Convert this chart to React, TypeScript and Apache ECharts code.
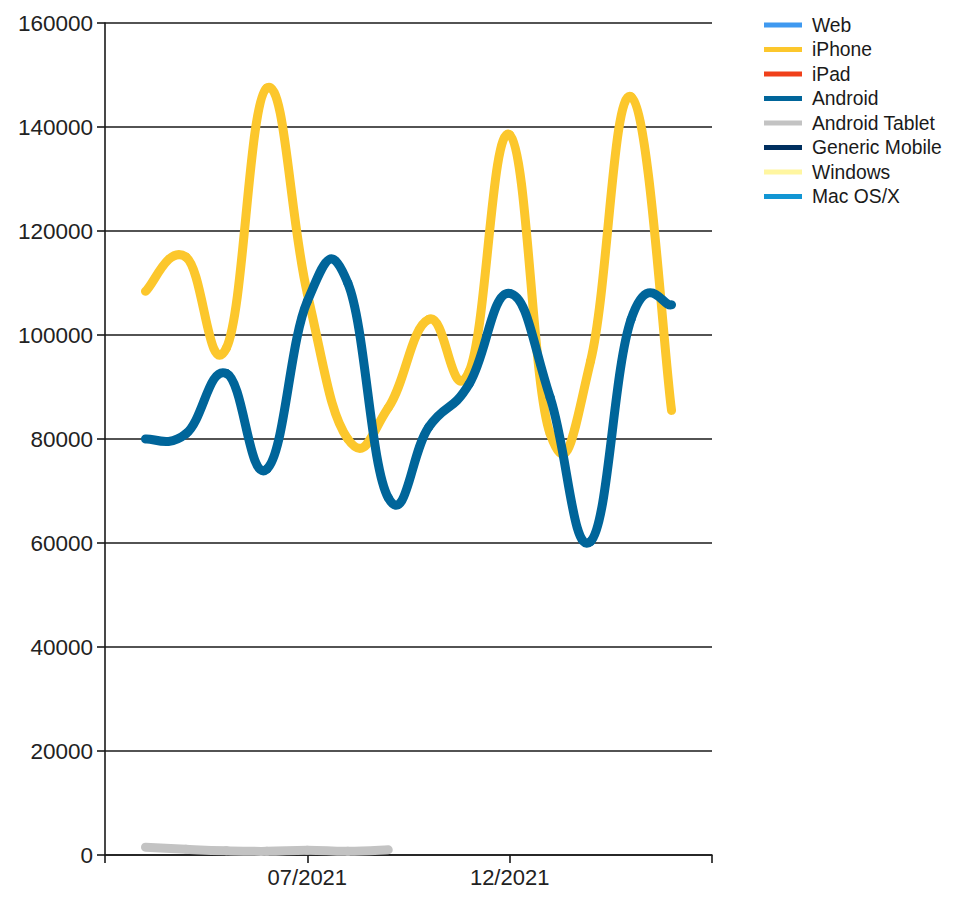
import React, { useEffect, useRef } from "react";
import * as echarts from "echarts";

// Monthly axis, one slot of padding on each side of the data
const months = [
  "02/2021", "03/2021", "04/2021", "05/2021", "06/2021", "07/2021", "08/2021", "09/2021",
  "10/2021", "11/2021", "12/2021", "01/2022", "02/2022", "03/2022", "04/2022", "05/2022",
];
const shownMonthLabels = ["07/2021", "12/2021"];

const webValues: (number | null)[] = [];
const iphoneValues: (number | null)[] = [
  null, 108400, 115000, 97500, 147500, 108000, 80000, 86000,
  103000, 93000, 138500, 81000, 95000, 145800, 85500, null,
];
const ipadValues: (number | null)[] = [];
const androidValues: (number | null)[] = [
  null, 80000, 81000, 92600, 74200, 106500, 110000, 68700,
  82300, 90600, 108000, 88000, 60300, 103000, 105800, null,
];
const androidTabletValues: (number | null)[] = [
  null, 1500, 1100, 800, 700, 900, 700, 1000,
  null, null, null, null, null, null, null, null,
];
const genericMobileValues: (number | null)[] = [];
const windowsValues: (number | null)[] = [];
const macValues: (number | null)[] = [];

const seriesNames = ["Web", "iPhone", "iPad", "Android", "Android Tablet", "Generic Mobile", "Windows", "Mac OS/X"];
const seriesColors = ["#3f99f0", "#fcc72c", "#f0401a", "#00659a", "#c3c3c3", "#002f5f", "#fff6a0", "#1296d4"];
const seriesValues = [
  webValues, iphoneValues, ipadValues, androidValues,
  androidTabletValues, genericMobileValues, windowsValues, macValues,
];

const FONT = "'Liberation Sans', Arial, sans-serif";
// Cardinal spline tension (0.5 = Catmull-Rom)
const TENSION = 0.66;
const LINE_WIDTH = 9;

// [monthIndex, value] pairs for the non-empty months of a series
function toPoints(values: (number | null)[]): [number, number][] {
  const pts: [number, number][] = [];
  values.forEach((v, i) => {
    if (v !== null && v !== undefined) pts.push([i, v]);
  });
  return pts;
}

// Each data item draws the spline segment from its point to the next one
function splineRenderer(pts: [number, number][], color: string) {
  const k = TENSION / 3;
  return (params: any, api: any) => {
    const i = params.dataIndex;
    const n = pts.length;
    if (i >= n - 1) return null;
    const at = (j: number) => api.coord(pts[Math.max(0, Math.min(n - 1, j))]);
    const p0 = at(i - 1);
    const p1 = at(i);
    const p2 = at(i + 1);
    const p3 = at(i + 2);
    return {
      type: "bezierCurve",
      shape: {
        x1: p1[0],
        y1: p1[1],
        x2: p2[0],
        y2: p2[1],
        cpx1: p1[0] + k * (p2[0] - p0[0]),
        cpy1: p1[1] + k * (p2[1] - p0[1]),
        cpx2: p2[0] - k * (p3[0] - p1[0]),
        cpy2: p2[1] - k * (p3[1] - p1[1]),
      },
      style: { stroke: color, fill: "none", lineWidth: LINE_WIDTH, lineCap: "round" },
      silent: true,
    };
  };
}

export default function App() {
  const ref = useRef<HTMLDivElement>(null);

  useEffect(() => {
    if (!ref.current) return;
    const chart = echarts.init(ref.current, undefined, { renderer: "svg" });

    chart.setOption({
      animation: false,
      backgroundColor: "#ffffff",
      grid: { left: 105, right: 261, top: 23, bottom: 47, containLabel: false },
      legend: {
        orient: "vertical",
        left: 764,
        top: 15,
        padding: 0,
        itemWidth: 38,
        itemHeight: 5,
        itemGap: 4.5,
        icon: "rect",
        data: seriesNames.map((name, i) => ({ name, itemStyle: { color: seriesColors[i] } })),
        textStyle: {
          fontFamily: FONT,
          fontSize: 19.3,
          color: "#1a1a1a",
          lineHeight: 20,
          padding: [0, 0, 0, 5],
        },
        selectedMode: false,
      },
      xAxis: {
        type: "category",
        data: months,
        boundaryGap: false,
        axisLine: { show: true, lineStyle: { color: "#1a1a1a", width: 1.6 } },
        axisTick: { show: true, interval: 4, length: 8, lineStyle: { color: "#1a1a1a", width: 1.6 } },
        axisLabel: {
          interval: (_i: number, v: string) => shownMonthLabels.includes(v),
          fontFamily: FONT,
          fontSize: 22,
          color: "#222",
          margin: 11,
        },
        splitLine: { show: false },
      },
      yAxis: {
        type: "value",
        min: 0,
        max: 160000,
        interval: 20000,
        axisLine: { show: true, lineStyle: { color: "#1a1a1a", width: 1.6 } },
        axisTick: { show: true, length: 8, lineStyle: { color: "#1a1a1a", width: 1.6 } },
        axisLabel: {
          fontFamily: FONT,
          fontSize: 22.5,
          color: "#222",
          margin: 12,
          formatter: (v: number) => String(v),
        },
        splitLine: { show: true, lineStyle: { color: "#1a1a1a", width: 1.6 } },
      },
      series: seriesNames.map((name, i) => {
        const pts = toPoints(seriesValues[i]);
        return {
          name,
          type: "custom",
          data: pts,
          encode: { x: 0, y: 1 },
          renderItem: splineRenderer(pts, seriesColors[i]),
          itemStyle: { color: seriesColors[i] },
          z: 2,
        };
      }),
    });

    return () => chart.dispose();
  }, []);

  return (
    <div
      ref={ref}
      style={{ position: "absolute", left: 0, top: 0, width: 973, height: 902 }}
    />
  );
}
